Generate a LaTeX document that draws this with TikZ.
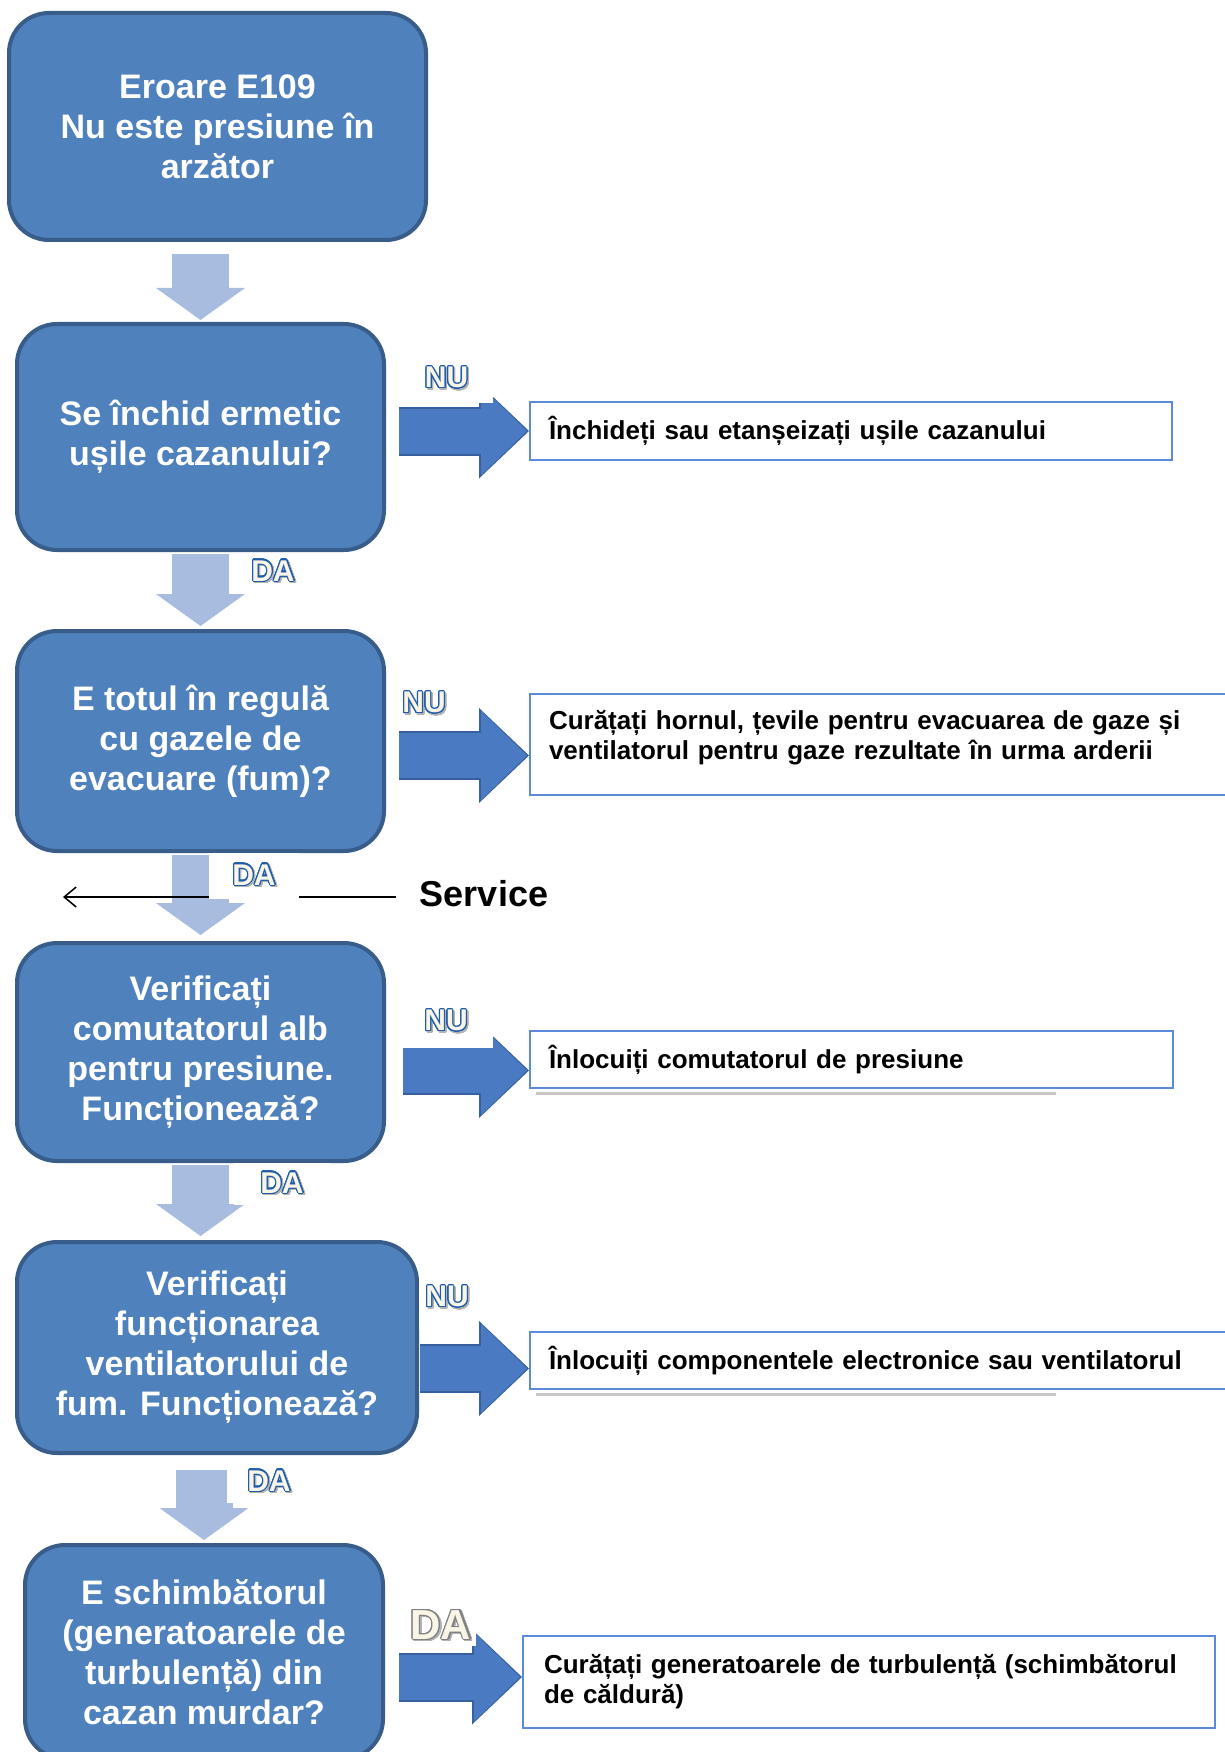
\documentclass[tikz,border=0pt]{standalone}
\usepackage{fontspec}
\setmainfont{Liberation Sans}
\usepackage{xcolor}
\usepackage{contour}
\usepackage{tikz}
\usetikzlibrary{arrows.meta,calc}

\definecolor{boxfill}{HTML}{4F81BD}
\definecolor{boxedge}{HTML}{385D8A}
\definecolor{downfill}{HTML}{A8BCDF}
\definecolor{rightfill}{HTML}{4A7BC2}
\definecolor{rightedge}{HTML}{36609E}
\definecolor{txtedge}{HTML}{5A8AD8}
\definecolor{ynedge}{HTML}{1F5CAA}
\definecolor{yncream}{HTML}{F8F4E6}

\contourlength{1.1pt}
\contournumber{24}
% outlined yes/no marks with a soft shadow
\newcommand{\ynmark}[2][ynedge]{%
  \rlap{\hspace{1.5pt}\raisebox{-1.5pt}{\textcolor{black!30}{\contour{black!30}{#2}}}}%
  \textcolor{yncream}{\contour{#1}{#2}}}

\begin{document}
\begin{tikzpicture}[x=1pt, y=-1pt,
  qbox/.style={rectangle, draw=boxedge, line width=4pt, fill=boxfill,
               rounded corners=40pt, text=white, align=center, inner sep=0pt,
               font=\fontsize{34}{40}\selectfont\bfseries},
  txtbox/.style={rectangle, draw=txtedge, line width=2pt, fill=white,
                 align=left, inner xsep=19pt, inner ysep=0pt,
                 font=\fontsize{26}{30}\selectfont\bfseries},
  yn/.style={fill=white, inner sep=0pt, font=\fontsize{30}{30}\selectfont\bfseries},
  downarr/.style={draw=downfill, line width=57pt,
                  -{Triangle[width=89pt 0 0, length=32pt 0 0, line width=0pt 0 0]}},
  rightarr/.style={draw=rightfill, line width=45pt, shorten >=2pt,
                   -{Triangle[width=89pt 0 0, length=46pt 0 0, line width=0pt 0 0]},
                   preaction={draw=rightedge, line width=49pt, shorten >=0pt,
                   -{Triangle[width=95pt 0 0, length=50pt 0 0, line width=0pt 0 0]}}},
  svcline/.style={draw=black, line width=1.5pt, -{Straight Barb[length=12pt, width=20pt]}},
  shadowln/.style={draw=black!22, line width=3pt}
]
\useasboundingbox (0,0) rectangle (1225,1752);

% question boxes
\node[qbox, minimum width=417pt, minimum height=227pt] (b1) at (217.5,126.5) {Eroare E109\\Nu este presiune în\\arzător};
\node[qbox, minimum width=367pt, minimum height=226pt] (b2) at (200.5,437) {Se închid ermetic\\ușile cazanului?};
\node[qbox, minimum width=367pt, minimum height=220pt] (b3) at (200.5,741) {E totul în regulă\\cu gazele de\\evacuare (fum)?};
\node[qbox, minimum width=367pt, minimum height=218pt] (b4) at (200.5,1052) {Verificați\\comutatorul alb\\pentru presiune.\\Funcționează?};
\node[qbox, minimum width=400pt, minimum height=211pt] (b5) at (217,1347.5) {Verificați\\funcționarea\\ventilatorului de\\fum. Funcționează?};
\node[qbox, minimum width=358pt, minimum height=214pt] (b6) at (204,1652) {E schimbătorul\\(generatoarele de\\turbulență) din\\cazan murdar?};

% action boxes
\node[txtbox, anchor=west, text width=604pt, minimum height=58pt] (t1) at (529,431) {Închideți sau etanșeizați ușile cazanului};
\node[txtbox, anchor=north west, text width=673pt] (t2) at (529,693) {\rule{0pt}{35pt}Curățați hornul, țevile pentru evacuarea de gaze și\\ventilatorul pentru gaze rezultate în urma arderii\rule[-36pt]{0pt}{0pt}};
\node[txtbox, anchor=west, text width=605pt, minimum height=57pt] (t3) at (529,1059.5) {Înlocuiți comutatorul de presiune};
\node[txtbox, anchor=west, text width=673pt, minimum height=57pt] (t4) at (529,1360.5) {Înlocuiți componentele electronice sau ventilatorul};
\node[txtbox, anchor=west, inner xsep=21pt, text width=650pt, minimum height=92pt] (t5) at (522,1682) {Curățați generatoarele de turbulență (schimbătorul\\de căldură)};

\draw[shadowln] ($(t3.south west)+(7,4)$) -- ($(t3.south west)+(527,4)$);
\draw[shadowln] ($(t4.south west)+(7,4)$) -- ($(t4.south west)+(527,4)$);

\node[inner sep=0pt, font=\fontsize{36}{36}\selectfont\bfseries] (svc) at (484,894) {Service};
\coordinate (svcend) at (63,897);

% down arrows (DA)
\draw[downarr, shorten <=12pt, shorten >=2pt] (b1.south -| b2.north) -- (b2.north);
\draw[downarr, shorten <=2pt, shorten >=3pt] (b2.south) -- (b3.north);
\draw[downarr, shorten <=2pt, shorten >=6pt] (b3.south) -- (b4.north);
\draw[downarr, shorten <=2pt, shorten >=4pt] (b4.south) -- (b5.north -| b4.south);
\draw[downarr, shorten <=15pt, shorten >=3pt] (b5.south -| b6.north) -- (b6.north);

% right arrows (NU)
\draw[rightarr] ($(b2.east |- t1.west)+(13,0)$) -- (t1.west);
\draw[rightarr] ($(b3.east |- t2.west)+(13,11)$) -- ($(t2.west)+(0,11)$);
\draw[rightarr] ($(b4.east |- t3.west)+(17,11)$) -- ($(t3.west)+(0,11)$);
\draw[rightarr] ($(b5.east |- t4.west)+(1,8)$) -- ($(t4.west)+(0,8)$);
\draw[rightarr] ($(b6.east |- t5.west)+(14,-5)$) -- ($(t5.west)+(0,-5)$);

\draw[svcline] ($(svc.west)+(-24,3)$) -- (svcend);

% labels
\node[yn, minimum width=93pt, minimum height=48pt] (nu1) at (446.5,379) {\ynmark{NU}};
\node[yn, minimum width=60pt, minimum height=52pt] (nu2) at (424,704) {\ynmark{NU}};
\node[yn, minimum width=94pt, minimum height=52pt] (nu3) at (446,1022) {\ynmark{NU}};
\node[yn, minimum width=56pt, minimum height=64pt] (nu4) at (447,1298) {\ynmark{NU}};
\node[yn, minimum width=85pt, minimum height=38pt] (da2) at (273,572) {\ynmark{DA}};
\node[yn, minimum width=90pt, minimum height=46pt] (da3) at (254,876) {\ynmark{DA}};
\node[yn, minimum width=96pt, minimum height=42pt] (da4) at (282,1184) {\ynmark{DA}};
\node[yn, minimum width=84pt, minimum height=42pt] (da5) at (269,1482) {\ynmark{DA}};
\node[yn, font=\fontsize{42}{42}\selectfont\bfseries, minimum width=70pt, minimum height=40pt] (da6) at (441,1626) {\ynmark[gray]{DA}};
\end{tikzpicture}
\end{document}
